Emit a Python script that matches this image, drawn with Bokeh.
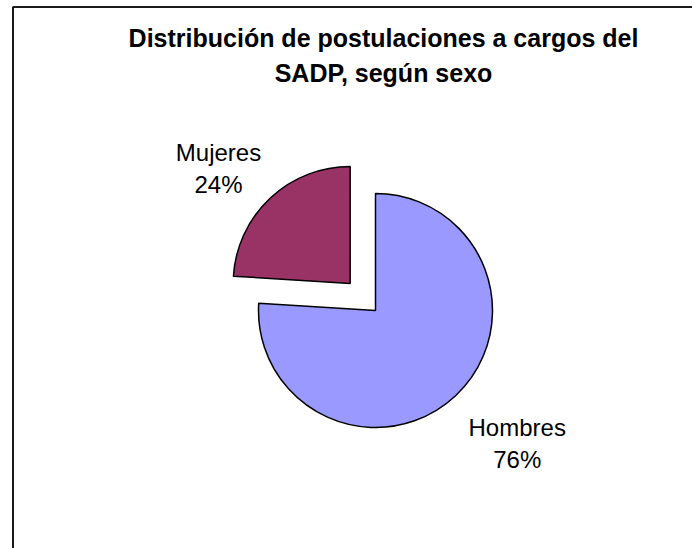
import numpy as np
from bokeh.plotting import figure
from bokeh.models import Range1d
from bokeh.core.properties import value
from bokeh.embed import file_html
from bokeh.resources import INLINE

# ---- data ----
categories = ["Mujeres", "Hombres"]
percentages = [24, 76]
colors = ["#993366", "#9999FF"]
explode_px = [37, 0]
title_lines = ["Distribución de postulaciones a cargos del", "SADP, según sexo"]

# ---- layout (1 data unit = 1 px, data y = 548 - screen y) ----
W, H = 692, 548
p = figure(width=W, height=H, x_range=Range1d(0, W), y_range=Range1d(548 - H, 548),
           output_backend="svg", toolbar_location=None,
           x_axis_type=None, y_axis_type=None,
           min_border=0, min_border_left=0, min_border_right=0,
           min_border_top=0, min_border_bottom=0)
p.grid.visible = False
p.outline_line_color = None
p.background_fill_color = "white"
p.border_fill_color = "white"

def sy(y):
    return 548 - y

# chart area border (left and top edges visible)
p.line([12.5, 12.5, 700], [-10, sy(6.5), sy(6.5)], line_color="#1a1a1a", line_width=2)

# title
p.text(x=[383, 383], y=[sy(37), sy(72)], text=title_lines,
       text_font=value("Liberation Sans"), text_font_style="bold",
       text_font_size="25px", text_align="center", text_baseline="alphabetic",
       text_color="black")

# pie
cx, cy, R = 375, sy(310), 117
vals = np.array(percentages, dtype=float)
frac = vals / vals.sum()
starts = np.radians(90 + 360 * np.concatenate([[0], np.cumsum(frac)[:-1]]))
ends = starts + 2 * np.pi * frac
mids = (starts + ends) / 2
ex = np.array(explode_px, dtype=float)
xs = cx + ex * np.cos(mids)
ys = cy + ex * np.sin(mids)

p.wedge(x=xs, y=ys, radius=R, start_angle=starts, end_angle=ends,
        direction="anticlock",
        fill_color=colors, line_color="black", line_width=1.5)

# labels: near corner of label box along mid angle
lab_r = 1.145 * R
label_half_w = [40, 50]
half_h = 26
for i, name in enumerate(categories):
    c, s = np.cos(mids[i]), np.sin(mids[i])
    bx = xs[i] + lab_r * c + np.sign(c) * label_half_w[i]
    by = ys[i] + lab_r * s + np.sign(s) * half_h
    p.text(x=[bx, bx], y=[by + 7, by - 25],
           text=[name, f"{percentages[i]}%"],
           text_font=value("Liberation Sans"), text_font_size="24px",
           text_align="center", text_baseline="alphabetic", text_color="black")

open("out.html", "w").write(file_html(p, INLINE))
